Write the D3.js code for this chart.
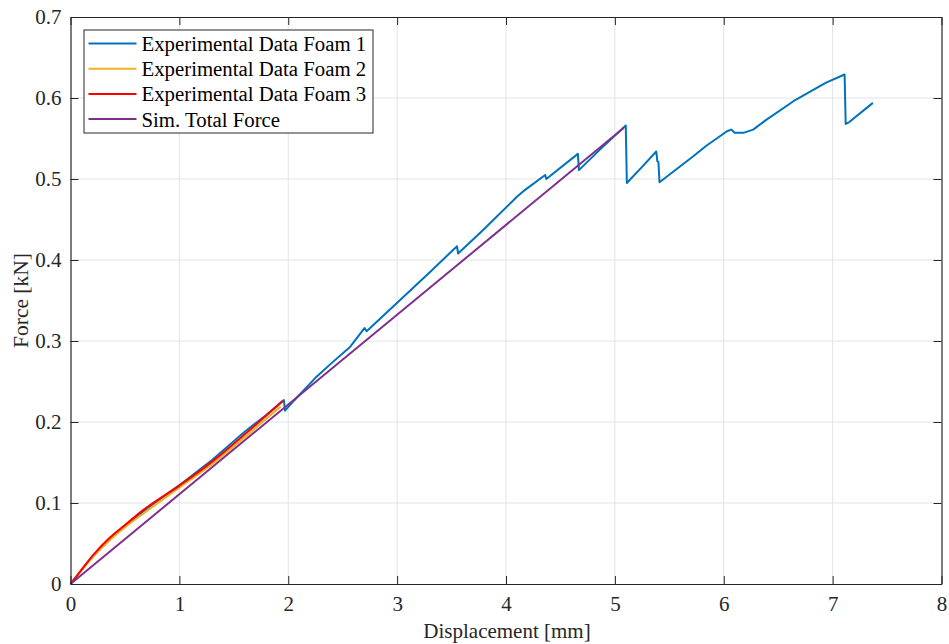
<!DOCTYPE html>
<html>
<head>
<meta charset="utf-8">
<script src="https://cdn.jsdelivr.net/npm/d3@7"></script>
<style>
  body { margin: 0; background: #fff; }
  svg { font-family: "Liberation Serif", "Times New Roman", serif; }
</style>
</head>
<body>
<svg id="chart" width="949" height="644"></svg>
<script>
/* data */
var xTicks = [0, 1, 2, 3, 4, 5, 6, 7, 8];
var yTicks = [0, 0.1, 0.2, 0.3, 0.4, 0.5, 0.6, 0.7];

var foam1X = [0, 0.2, 0.45, 0.7, 1.0, 1.3, 1.6, 1.8, 1.96, 1.97, 2.05, 2.26, 2.4, 2.57, 2.70, 2.72, 3.03, 3.30, 3.55, 3.56, 3.79, 4.10, 4.16, 4.36, 4.37, 4.66, 4.67, 4.86, 5.10, 5.11, 5.25, 5.38, 5.39, 5.40, 5.41, 5.72, 5.84, 6.03, 6.07, 6.10, 6.18, 6.27, 6.39, 6.64, 6.94, 7.11, 7.12, 7.15, 7.37];
var foam1Y = [0, 0.034, 0.066, 0.093, 0.122, 0.153, 0.188, 0.209, 0.227, 0.214, 0.226, 0.256, 0.273, 0.293, 0.316, 0.312, 0.351, 0.385, 0.417, 0.408, 0.437, 0.478, 0.485, 0.505, 0.500, 0.531, 0.511, 0.536, 0.566, 0.495, 0.515, 0.534, 0.522, 0.521, 0.496, 0.528, 0.541, 0.559, 0.561, 0.557, 0.557, 0.561, 0.573, 0.596, 0.619, 0.629, 0.568, 0.570, 0.594];

var foam2X = [0, 0.09, 0.21, 0.36, 0.52, 0.7, 1.0, 1.3, 1.6, 1.93];
var foam2Y = [0, 0.015, 0.034, 0.054, 0.072, 0.090, 0.119, 0.148, 0.181, 0.219];

var foam3X = [0, 0.09, 0.21, 0.36, 0.52, 0.67, 1.0, 1.31, 1.62, 1.95];
var foam3Y = [0, 0.0156, 0.036, 0.057, 0.075, 0.0915, 0.1215, 0.152, 0.187, 0.226];

var simX = [0, 5.08];
var simY = [0, 0.563];

var seriesNames = ["Experimental Data Foam 1", "Experimental Data Foam 2", "Experimental Data Foam 3", "Sim. Total Force"];
var seriesColors = ["#0072BD", "#EDB120", "#FF0000", "#7E2F8E"];

var Chart = {
    left: 70.5,
    right: 941.5,
    top: 17,
    bottom: 584,
    axisColor: "#262626",
    gridColor: "#e3e3e3",

    init: function() {
        this.svg = d3.select("#chart");
        this.x = d3.scaleLinear().domain([0, 8]).range([this.left, this.right]);
        this.y = d3.scaleLinear().domain([0, 0.7]).range([this.bottom, this.top]);
        this.drawGrid();
        this.drawLines();
        this.drawAxes();
        this.drawLegend();
    },

    drawGrid: function() {
        var g = this.svg.append("g");
        g.selectAll(".gx").data(xTicks.slice(1, -1)).enter().append("line")
            .attr("x1", d => this.x(d)).attr("x2", d => this.x(d))
            .attr("y1", this.top).attr("y2", this.bottom)
            .attr("stroke", this.gridColor).attr("stroke-width", 1);
        g.selectAll(".gy").data(yTicks.slice(1, -1)).enter().append("line")
            .attr("y1", d => this.y(d)).attr("y2", d => this.y(d))
            .attr("x1", this.left).attr("x2", this.right)
            .attr("stroke", this.gridColor).attr("stroke-width", 1);
    },

    drawLines: function() {
        var sharp = d3.line().x(d => this.x(d[0])).y(d => this.y(d[1]));
        /*the foam 2 and 3 curves are smooth, so round them a little*/
        var smooth = d3.line().curve(d3.curveMonotoneX).x(d => this.x(d[0])).y(d => this.y(d[1]));
        var all = [[foam1X, foam1Y], [foam2X, foam2Y], [foam3X, foam3Y], [simX, simY]];
        var svg = this.svg;
        all.forEach(function(s, i) {
            var pts = s[0].map((v, k) => [v, s[1][k]]);
            svg.append("path").datum(pts)
                .attr("d", (i === 1 || i === 2) ? smooth : sharp)
                .attr("fill", "none")
                .attr("stroke", seriesColors[i])
                .attr("stroke-width", 2)
                .attr("stroke-linejoin", "round");
        });
    },

    drawAxes: function() {
        var bottomAxis = d3.axisBottom(this.x).tickValues(xTicks).tickFormat(d3.format("d"))
            .tickSizeInner(-8).tickSizeOuter(0).tickPadding(12);
        var leftAxis = d3.axisLeft(this.y).tickValues(yTicks).tickFormat(d => d === 0 ? "0" : d3.format(".1f")(d))
            .tickSizeInner(-8).tickSizeOuter(0).tickPadding(9);
        var topAxis = d3.axisTop(this.x).tickValues(xTicks).tickFormat("").tickSizeInner(-8).tickSizeOuter(0);
        var rightAxis = d3.axisRight(this.y).tickValues(yTicks).tickFormat("").tickSizeInner(-8).tickSizeOuter(0);

        var gb = this.svg.append("g").attr("transform", "translate(0," + this.bottom + ")").call(bottomAxis);
        var gl = this.svg.append("g").attr("transform", "translate(" + this.left + ",0)").call(leftAxis);
        var gt = this.svg.append("g").attr("transform", "translate(0," + this.top + ")").call(topAxis);
        var gr = this.svg.append("g").attr("transform", "translate(" + this.right + ",0)").call(rightAxis);

        [gb, gl, gt, gr].forEach(g => {
            g.selectAll("path").attr("stroke", this.axisColor).attr("stroke-width", 1.2);
            g.selectAll("line").attr("stroke", this.axisColor).attr("stroke-width", 1);
            g.selectAll("text").attr("fill", this.axisColor)
                .style("font-family", "Liberation Serif").style("font-size", "21px");
        });

        this.svg.append("text")
            .attr("x", (this.left + this.right) / 2 + 1).attr("y", 638)
            .attr("text-anchor", "middle").attr("fill", this.axisColor)
            .style("font-size", "21px")
            .text("Displacement [mm]");
        this.svg.append("text")
            .attr("transform", "translate(28," + ((this.top + this.bottom) / 2) + ") rotate(-90)")
            .attr("text-anchor", "middle").attr("fill", this.axisColor)
            .style("font-size", "21.5px")
            .text("Force [kN]");
    },

    drawLegend: function() {
        var lg = this.svg.append("g").attr("transform", "translate(84,30)");
        lg.append("rect").attr("width", 289).attr("height", 103)
            .attr("fill", "#fff").attr("stroke", this.axisColor).attr("stroke-width", 1);
        var rows = lg.selectAll(".row").data(seriesNames).enter().append("g")
            .attr("transform", (d, i) => "translate(0," + (13.5 + i * 25.2) + ")");
        rows.append("line").attr("x1", 4.5).attr("x2", 52.5).attr("y1", 0).attr("y2", 0)
            .attr("stroke", (d, i) => seriesColors[i]).attr("stroke-width", 2);
        rows.append("text").attr("x", 57.5).attr("y", 7.5)
            .attr("fill", "#000").style("font-size", "20.8px")
            .text(d => d);
    }
};

Chart.init();
</script>
</body>
</html>
